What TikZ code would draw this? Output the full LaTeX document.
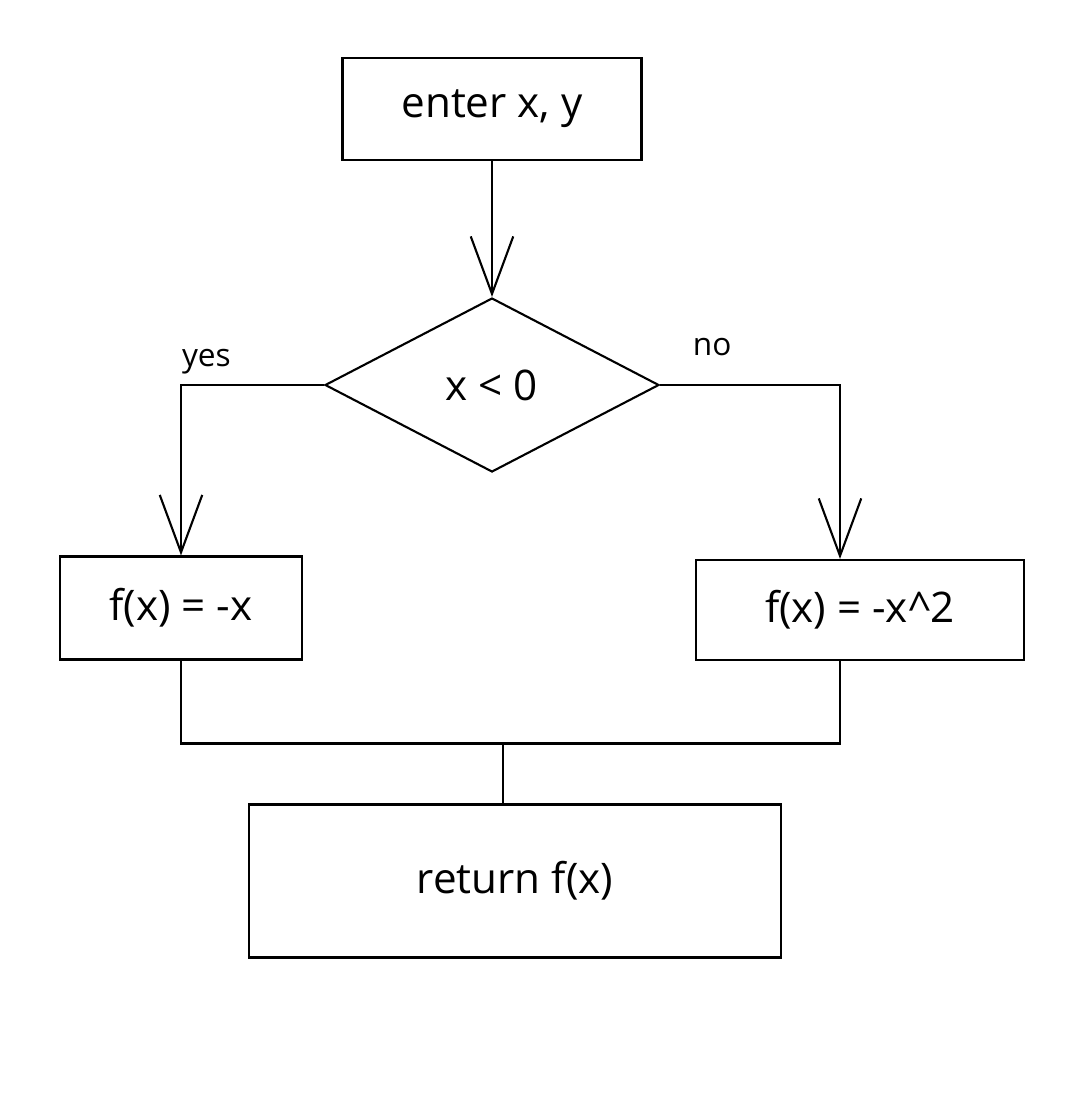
\documentclass[tikz,border=0pt]{standalone}
\usepackage{fontspec}
\setmainfont{Open Sans}
\usetikzlibrary{shapes.geometric, arrows.meta}
\tikzset{
	flowchartnode/.style = {text centered, draw=black, line width=1.2pt, font=\fontsize{24}{28}\selectfont},
	process/.style = {rectangle, flowchartnode},
	decision/.style = {diamond, flowchartnode, minimum width=6.68cm, minimum height=3.48cm, inner sep=0pt},
	line/.style = {draw, line width=1.2pt, -{Straight Barb[length=1.15cm, width=0.85cm]}},
	mergeline/.style = {draw, line width=1.2pt},
	answer/.style = {font=\fontsize{18}{22}\selectfont, inner sep=0pt}
}

\begin{document}
\begin{tikzpicture}[node distance=2cm]
	\useasboundingbox (0,0) rectangle (21.52,-22.08);
	% Define flow charts' component
	\node (enter) [process, minimum width=5.98cm, minimum height=2.04cm] at (9.84,-2.18) {enter x, y};
	\node (check) [decision, below of=enter, yshift=-3.52cm] {x < 0};
	\node (negx) [process, minimum width=4.84cm, minimum height=2.06cm, below of=check, xshift=-6.22cm, yshift=-2.46cm] {f(x) = -x};
	\node (negsq) [process, minimum width=6.56cm, minimum height=2cm, below of=check, xshift=7.36cm, yshift=-2.5cm] {f(x) = -x\textasciicircum 2};
	\node (result) [process, minimum width=10.64cm, minimum height=3.06cm, below of=check, xshift=0.46cm, yshift=-7.92cm] {return f(x)};
	\coordinate (merge) at ([xshift=-0.24cm, yshift=1.2cm]result.north);

	% Define flow charts' link
	\path [line] (enter) -- (check);
	\path [line] (check.west) -| node[answer, anchor=south west, yshift=0.2cm] {yes} (negx.north);
	\path [line] (check.east) -| node[answer, pos=0.145, anchor=south, yshift=0.56cm] {no} ([xshift=-0.4cm]negsq.north);
	\path [mergeline] (negx.south) |- (merge);
	\path [mergeline] ([xshift=-0.4cm]negsq.south) |- (merge);
	\path [mergeline] (merge) -- (merge |- result.north);
\end{tikzpicture}
\end{document}
